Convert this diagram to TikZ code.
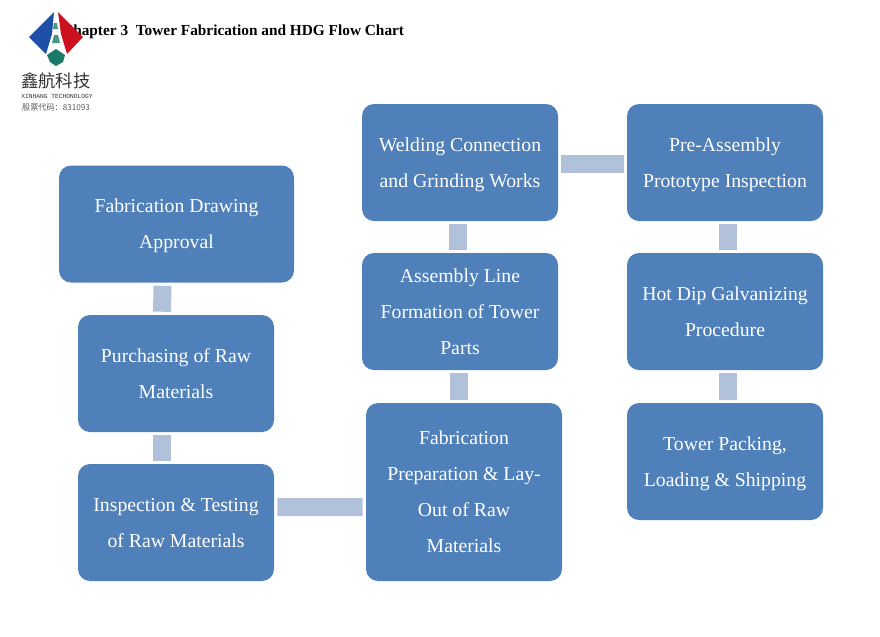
\documentclass[tikz,border=0pt]{standalone}
\usepackage{fontspec}
\setmainfont{Liberation Serif}
\newfontfamily\cjk{Noto Sans CJK SC}
\newfontfamily\logomono{Liberation Mono}
\usetikzlibrary{positioning}
\definecolor{boxblue}{HTML}{4F80BA}
\definecolor{barblue}{HTML}{B1C1DA}
\definecolor{logoblue}{HTML}{1F4FA8}
\definecolor{logored}{HTML}{CC1020}
\definecolor{logogreen}{HTML}{1A7A68}

\begin{document}
\begin{tikzpicture}[
    x = 0.75pt, y = -0.75pt,
    punkt/.style = {rectangle, fill=boxblue, rounded corners=9pt, text=white,
      align=center, inner sep=0pt, minimum width=147pt, minimum height=87.75pt,
      text depth=0pt, font=\fontsize{14.8}{27}\selectfont},
    pil/.style = {barblue, line width=13.5pt, shorten >=2.25pt, shorten <=2.25pt},
    ]
  \useasboundingbox (0,0) rectangle (880,636);

  \node[font=\bfseries\fontsize{11.5}{13}\selectfont, anchor=west] (title) at (57.5,32)
    {Chapter 3\ \ Tower Fabrication and HDG Flow Chart} ;

  %left column
  \node[punkt, minimum width=176.25pt] (approval) at (176.5,224) {Fabrication Drawing\\Approval} ;
  \node[punkt] (purchasing) at (176,373.5) {Purchasing of Raw\\Materials} ;
  \node[punkt] (inspection) at (176,522.5) {Inspection \& Testing\\of Raw Materials} ;

  %middle column
  \node[punkt, minimum height=133.5pt] (preparation) at (464,492) {Fabrication\\Preparation \& Lay-\\Out of Raw\\Materials} ;
  \node[punkt] (assembly) at (460,311.5) {Assembly Line\\Formation of Tower\\Parts} ;
  \node[punkt] (welding) at (460,162.5) {Welding Connection\\and Grinding Works} ;

  %right column
  \node[punkt] (preassembly) at (725,162.5) {Pre-Assembly\\Prototype Inspection} ;
  \node[punkt] (hotdip) at (725,311.5) {Hot Dip Galvanizing\\Procedure} ;
  \node[punkt] (packing) at (725,461.5) {Tower Packing,\\Loading \& Shipping} ;

  \draw[pil] ([xshift=-10.5pt]approval.south) -- ([xshift=-10.5pt]purchasing.north) ;
  \draw[pil] ([xshift=-10.5pt]purchasing.south) -- ([xshift=-10.5pt]inspection.north) ;
  \draw[pil] ([yshift=11.6pt]inspection.east) -- ([yshift=-11.25pt]preparation.west) ;
  \draw[pil] ([xshift=-3.75pt]preparation.north) -- ([xshift=-0.75pt]assembly.south) ;
  \draw[pil] ([xshift=-1.5pt]assembly.north) -- ([xshift=-1.5pt]welding.south) ;
  \draw[pil] ([yshift=-0.75pt]welding.east) -- ([yshift=-0.75pt]preassembly.west) ;
  \draw[pil] ([xshift=2pt]preassembly.south) -- ([xshift=2pt]hotdip.north) ;
  \draw[pil] ([xshift=2pt]hotdip.south) -- ([xshift=2pt]packing.north) ;

  %logo
  \fill[logoblue] (54,12) -- (29,37) -- (46,54) -- (52,34) -- cycle ;
  \fill[logored] (58,12) -- (83,37) -- (67,54) -- (61,34) -- cycle ;
  \fill[logogreen] (47,55) -- (56,49) -- (65,55) -- (63,62) -- (56,66) -- (50,62) -- cycle ;
  \fill[logogreen!80!white] (54,23) -- (57,23) -- (58,29) -- (53,29) -- cycle ;
  \fill[logogreen!80!white] (54,35) -- (58,35) -- (60,43) -- (52,43) -- cycle ;
  \node[font=\cjk\fontsize{13}{14}\selectfont, text=black!80] (brand) at (56,81) {鑫航科技} ;
  \node[font=\logomono\fontsize{4.7}{5}\selectfont, text=black!80] (brandlatin) at (57,96) {XINHANG TECHONOLOGY} ;
  \node[font=\cjk\fontsize{6.1}{7}\selectfont, text=black!65] (stock) at (56,107) {股票代码：831093} ;
\end{tikzpicture}
\end{document}
